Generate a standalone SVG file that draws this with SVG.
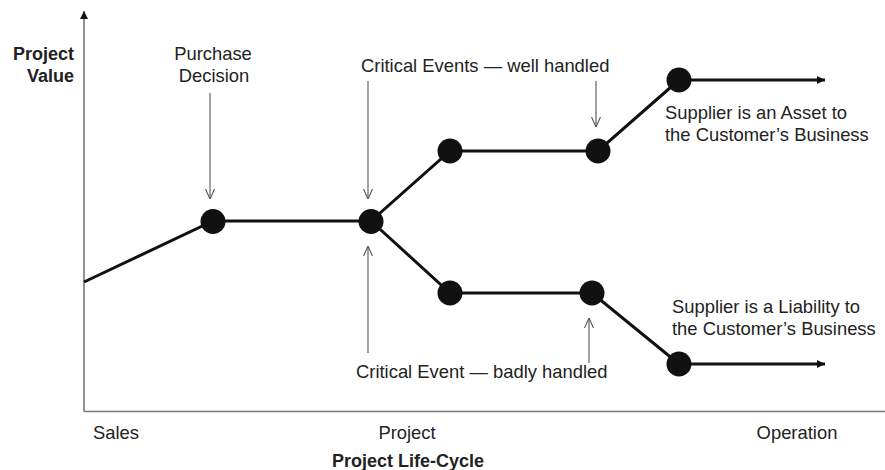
<svg xmlns="http://www.w3.org/2000/svg" width="885" height="470" viewBox="0 0 885 470">
<style>
text{font-family:"Liberation Sans",Arial,sans-serif;fill:#222;font-size:18.4px}
.b{font-weight:bold;font-size:18px}
.main{stroke:#111;stroke-width:3;fill:none}
.axis{stroke:#777;stroke-width:1.6;fill:none}
.ptr{stroke:#555;stroke-width:1.1;fill:none}
.node{fill:#111}
</style>
<defs>
<marker id="ah" viewBox="0 0 10 10" refX="10" refY="5" markerWidth="8" markerHeight="8" markerUnits="userSpaceOnUse" orient="auto"><path d="M0,0 L10,5 L0,10 z" fill="#111"/></marker>
<marker id="yah" viewBox="0 0 10 10" refX="10" refY="5" markerWidth="8" markerHeight="8" markerUnits="userSpaceOnUse" orient="auto"><path d="M0,0 L10,5 L0,10 z" fill="#111"/></marker>
<marker id="open" viewBox="0 0 10 10" refX="10" refY="5" markerWidth="10" markerHeight="10" markerUnits="userSpaceOnUse" orient="auto"><path d="M0,0.5 L10,5 L0,9.5" fill="none" stroke="#555" stroke-width="1.1"/></marker>
</defs>
<g id="axes">
<line class="axis" x1="84" y1="411.5" x2="84" y2="11" marker-end="url(#yah)"/>
<line class="axis" x1="84" y1="411.5" x2="885" y2="411.5"/>
</g>
<g id="connectors">
<polyline class="main" points="84,282 213,221 371,221 450,151 598,151 679,80"/>
<line class="main" x1="679" y1="80" x2="825" y2="80" marker-end="url(#ah)"/>
<polyline class="main" points="371,221 450,293 592,293 679,364"/>
<line class="main" x1="679" y1="364" x2="825" y2="364" marker-end="url(#ah)"/>
<line class="ptr" x1="210" y1="93" x2="210" y2="199" marker-end="url(#open)"/>
<line class="ptr" x1="368" y1="81" x2="368" y2="199" marker-end="url(#open)"/>
<line class="ptr" x1="596" y1="81" x2="596" y2="127" marker-end="url(#open)"/>
<line class="ptr" x1="368" y1="353" x2="368" y2="246" marker-end="url(#open)"/>
<line class="ptr" x1="589" y1="363" x2="589" y2="318" marker-end="url(#open)"/>
</g>
<g id="n-purchase"><circle class="node" cx="213" cy="221.5" r="12.5"/></g>
<g id="n-critical"><circle class="node" cx="371" cy="221.5" r="12.5"/></g>
<g id="n-up1"><circle class="node" cx="450" cy="151" r="12.5"/></g>
<g id="n-up2"><circle class="node" cx="598" cy="151" r="12.5"/></g>
<g id="n-up3"><circle class="node" cx="679" cy="80" r="12.5"/></g>
<g id="n-low1"><circle class="node" cx="450" cy="293" r="12.5"/></g>
<g id="n-low2"><circle class="node" cx="592" cy="293" r="12.5"/></g>
<g id="n-low3"><circle class="node" cx="679" cy="364" r="12.5"/></g>
<g id="labels">
<text class="b" x="74" y="60" text-anchor="end">Project</text>
<text class="b" x="74" y="82" text-anchor="end">Value</text>
<text x="213" y="60" text-anchor="middle">Purchase</text>
<text x="214" y="82" text-anchor="middle">Decision</text>
<text x="361" y="72">Critical Events — well handled</text>
<text x="665" y="119">Supplier is an Asset to</text>
<text x="665" y="141">the Customer’s Business</text>
<text x="672" y="313">Supplier is a Liability to</text>
<text x="672" y="335">the Customer’s Business</text>
<text x="356" y="378">Critical Event — badly handled</text>
<text x="93" y="439">Sales</text>
<text x="407" y="439" text-anchor="middle">Project</text>
<text x="797" y="439" text-anchor="middle">Operation</text>
<text class="b" x="408" y="467" text-anchor="middle">Project Life-Cycle</text>
</g>
</svg>
